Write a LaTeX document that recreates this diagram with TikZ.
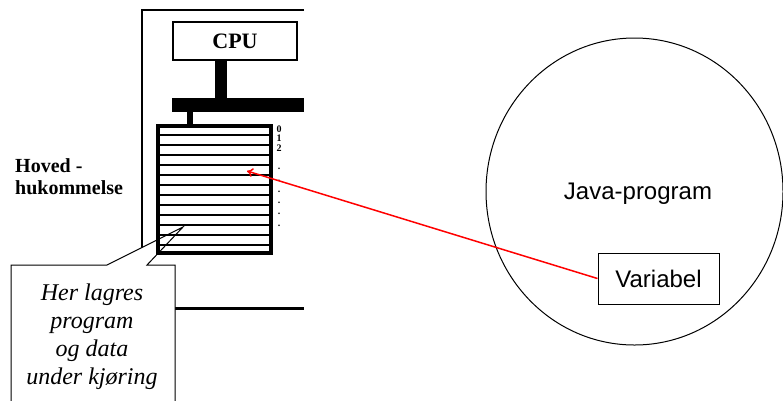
\documentclass[tikz,border=0pt]{standalone}
\usepackage{fontspec}
\setmainfont{Liberation Serif}
\newfontfamily\javasans{Liberation Sans}
\usetikzlibrary{arrows.meta}
\tikzset{
  framepen/.style={line width=2pt, black},
  thickbar/.style={fill=black, draw=none},
  membox/.style={draw, line width=4pt},
  cellline/.style={line width=1.2pt},
  addrlabel/.style={font=\fontsize{10}{10}\selectfont\bfseries, inner sep=0pt, anchor=base},
  callouttext/.style={font=\fontsize{24}{28}\selectfont\itshape, align=center, inner sep=0pt},
  sidelabel/.style={font=\fontsize{20}{20}\selectfont\bfseries, anchor=base west, inner sep=0pt},
  cpubox/.style={draw, line width=2pt, minimum width=124pt, minimum height=38pt, inner sep=0pt, font=\fontsize{22}{22}\selectfont\bfseries},
  progcircle/.style={line width=1pt},
  varbox/.style={draw, line width=1pt, minimum width=121pt, minimum height=51pt, inner sep=0pt, font=\javasans\fontsize{24}{24}\selectfont},
  redarrow/.style={draw=red, line width=1.5pt, -{To[length=6pt,width=9pt]}}
}
\begin{document}
\begin{tikzpicture}[x=1pt,y=-1pt]
\useasboundingbox (0,0) rectangle (783,400);
\clip (0,0) rectangle (783,400);
% frame (cut off at right)
\draw[framepen] (304,10) -- (142,10) -- (142,308);
\draw[line width=3pt] (142,308) -- (304,308);
% CPU
\node[cpubox] (cpu) at (235,41) {CPU};
% bus
\fill[thickbar] (215,60) rectangle (227,99);
\fill[thickbar] (172,98) rectangle (304,112);
\fill[thickbar] (187,111) rectangle (193,126);
% callout fill
\fill[white] (11,402) -- (11,265) -- (107,265) -- (183,227) -- (147,265) -- (175,265) -- (175,402) -- cycle;
% memory
\foreach \yy in {135,145,...,245} {\draw[cellline] (158,\yy) -- (271,\yy);}
\draw[membox] (158,126) rectangle (271,253);
\coordinate (cell) at (247,171);
% addresses
\node[addrlabel] (a0) at (279,132) {0};
\node[addrlabel] (a1) at (279,141.5) {1};
\node[addrlabel] (a2) at (279,151) {2};
\foreach \yy [count=\i] in {168,180,191,202,213,225} {\node[addrlabel] (d\i) at (279,\yy+1) {.};}
% side label
\node[sidelabel] (hoved) at (15,172) {Hoved -};
\node[sidelabel] (huk) at (15,194) {hukommelse};
% callout outline
\draw[line width=1pt, line join=miter] (11,402) -- (11,265) -- (107,265) -- (183,227) -- (147,265) -- (175,265) -- (175,402);
\node[callouttext] (note) at (92,337) {Her lagres\\program\\og data\\under kjøring};
% Java program
\draw[progcircle] (634.5,191.5) ellipse [x radius=148.5, y radius=153.5];
\node[font=\javasans\fontsize{24}{24}\selectfont, inner sep=0pt] (java) at (638,194) {Java-program};
\node[varbox] (var) at (658.5,278.5) {Variabel};
\draw[redarrow] (var.west) -- (cell);
\end{tikzpicture}
\end{document}
